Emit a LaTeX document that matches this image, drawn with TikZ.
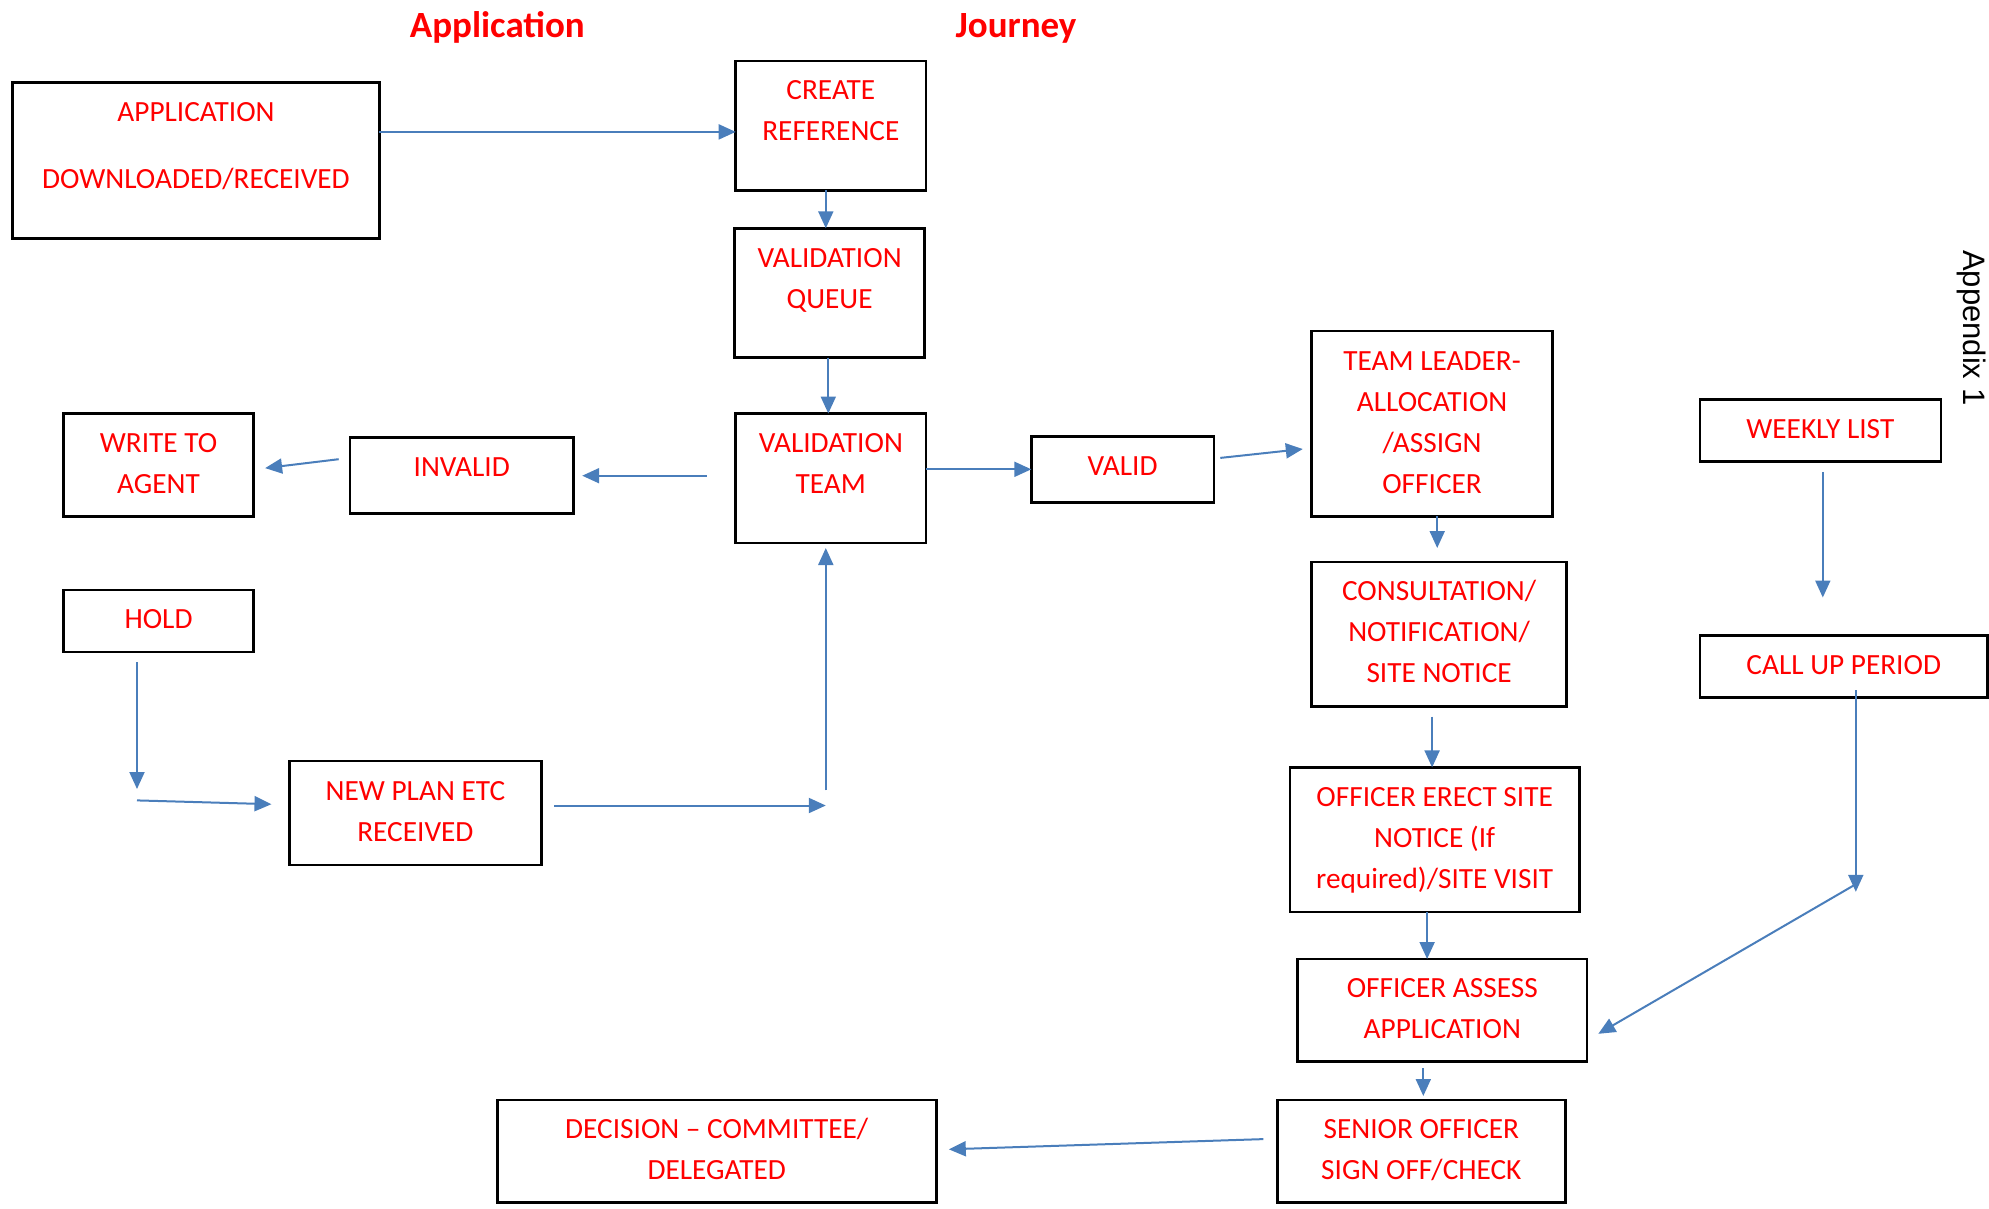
\documentclass[tikz,border=0pt]{standalone}
\usepackage{fontspec}
\setmainfont{Carlito}
\newfontfamily\appxfont{Liberation Sans}
\usetikzlibrary{arrows.meta,calc}
\definecolor{arrblue}{HTML}{4A7EBB}
\definecolor{txtred}{RGB}{255,0,0}
\tikzset{
  boxst/.style={draw=black, line width=2.6pt, anchor=north west, inner sep=0pt, outer sep=0pt},
  txt/.style={text=txtred, font=\fontsize{29.3}{41}\selectfont, align=center, inner sep=0pt, anchor=north},
  ttl/.style={text=txtred, font=\bfseries\fontsize{37}{44}\selectfont, inner sep=0pt, anchor=base},
  arr/.style={draw=arrblue, line width=2pt, -{Triangle[length=17pt,width=15pt]}},
}
\newcommand\flowbox[6]{%
  \node[boxst, minimum width=#4pt, minimum height=#5pt] (#1) at (#2,-#3) {};
  \node[txt] (#1t) at ([yshift=-10pt]#1.north) {\strut #6};}
\begin{document}
\begin{tikzpicture}[x=1pt,y=1pt]
\useasboundingbox (0,0) rectangle (1989,-1208);
% titles
\node[ttl] (t1) at (497.3,-37) {Application};
\node[ttl] (t2) at (1016,-37) {Journey};
\node[rotate=-90, anchor=base west, inner sep=0pt, font=\appxfont\fontsize{31}{36}\selectfont] (apx) at (1963,-250) {Appendix 1};
% boxes
\flowbox{app}{12.7}{82.5}{366.6}{156}{APPLICATION\\[26pt]DOWNLOADED/RECEIVED}
\flowbox{cr}{735.7}{60.9}{190.3}{129.4}{CREATE\\REFERENCE}
\flowbox{vq}{734.5}{228.3}{190.2}{129.4}{VALIDATION\\QUEUE}
\flowbox{vt}{735.7}{413.5}{190.3}{129.4}{VALIDATION\\TEAM}
\flowbox{inv}{350.1}{437.6}{223.3}{76.1}{INVALID}
\flowbox{wta}{63.4}{413.5}{190.3}{102.8}{WRITE TO\\AGENT}
\flowbox{hold}{63.4}{589.9}{190.3}{62.1}{HOLD}
\flowbox{npe}{289.2}{761.1}{252.4}{104}{NEW PLAN ETC\\RECEIVED}
\flowbox{valid}{1031.3}{436.4}{182.7}{65.9}{VALID}
\flowbox{tl}{1311.6}{331.1}{241}{185.2}{TEAM LEADER-\\ALLOCATION\\/ASSIGN\\OFFICER}
\flowbox{cons}{1311.6}{562.0}{255}{144.6}{CONSULTATION/\\NOTIFICATION/\\SITE NOTICE}
\flowbox{oe}{1290.1}{767.4}{289.2}{144.7}{OFFICER ERECT SITE\\NOTICE (If\\required)/SITE VISIT}
\flowbox{oa}{1297.7}{959.0}{289.2}{102.7}{OFFICER ASSESS\\APPLICATION}
\flowbox{so}{1277.4}{1099.8}{287.9}{102.7}{SENIOR OFFICER\\SIGN OFF/CHECK}
\flowbox{dec}{497.3}{1099.8}{438.9}{102.7}{DECISION \textendash{} COMMITTEE/\\DELEGATED}
\flowbox{wk}{1699.8}{399.6}{241}{62.1}{WEEKLY LIST}
\flowbox{call}{1699.8}{635.5}{287.9}{62.2}{CALL UP PERIOD}
% coordinates
\coordinate (a1) at (0,-131.9);
\coordinate (b1) at (825.8,0);
\coordinate (c1) at (828.3,0);
\coordinate (d1) at (0,-469.3);
\coordinate (e1) at (1220.3,-457.9);
\coordinate (e2) at (1302.8,-449.0);
\coordinate (f1) at (706.6,-475.7);
\coordinate (f2) at (582.2,-475.7);
\coordinate (g1) at (338.7,-459.2);
\coordinate (g2) at (265.1,-468.1);
\coordinate (h1) at (137,-662.2);
\coordinate (h2) at (137,-789.0);
\coordinate (i1) at (137,-800.4);
\coordinate (i2) at (271.5,-804.2);
\coordinate (j1) at (554.3,-805.5);
\coordinate (j2) at (825.8,-805.5);
\coordinate (k1) at (825.8,-790.3);
\coordinate (k2) at (825.8,-548.0);
\coordinate (l1) at (1437.2,0);
\coordinate (l2) at (1437.2,-548.0);
\coordinate (m1) at (1432.1,-716.7);
\coordinate (n1) at (1427.1,0);
\coordinate (o1) at (1423.3,-1068.1);
\coordinate (o2) at (1423.3,-1096.0);
\coordinate (p1) at (1263.4,-1139.1);
\coordinate (p2) at (948.8,-1149.3);
\coordinate (q1) at (1822.8,-471.9);
\coordinate (q2) at (1822.8,-597.5);
\coordinate (r1) at (1855.8,-690);
\coordinate (r2) at (1855.8,-891.8);
\coordinate (s1) at (1855.8,-884.2);
\coordinate (s2) at (1598.3,-1033.8);
% connectors
\draw[arr] (app.east |- a1) -- (cr.west |- a1);
\draw[arr] (cr.south -| b1) -- (vq.north -| b1);
\draw[arr] (vq.south -| c1) -- (vt.north -| c1);
\draw[arr] (vt.east |- d1) -- (valid.west |- d1);
\draw[arr] (e1) -- (e2);
\draw[arr] (f1) -- (f2);
\draw[arr] (g1) -- (g2);
\draw[arr] (h1) -- (h2);
\draw[arr] (i1) -- (i2);
\draw[arr] (j1) -- (j2);
\draw[arr] (k1) -- (k2);
\draw[arr] (tl.south -| l1) -- (l2);
\draw[arr] (m1) -- (oe.north -| m1);
\draw[arr] (oe.south -| n1) -- (oa.north -| n1);
\draw[arr] (o1) -- (o2);
\draw[arr] (p1) -- (p2);
\draw[arr] (q1) -- (q2);
\draw[arr] (r1) -- (r2);
\draw[arr] (s1) -- (s2);
\end{tikzpicture}
\end{document}
